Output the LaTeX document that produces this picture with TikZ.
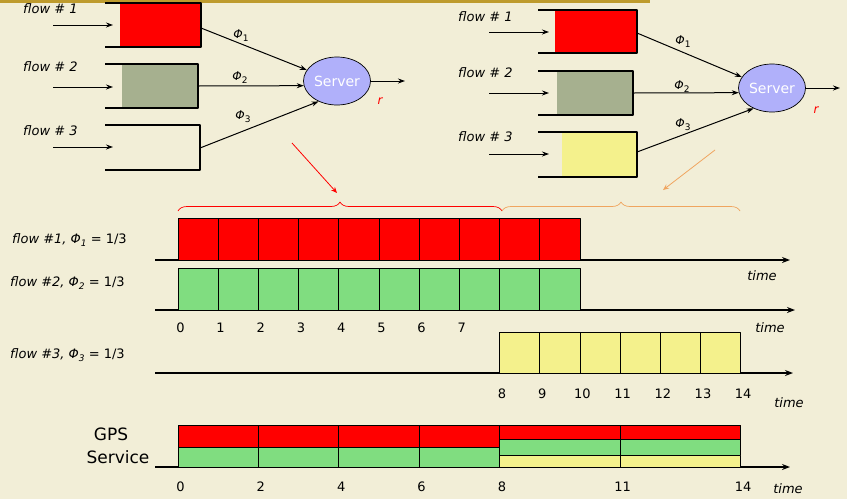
\documentclass[tikz,border=0pt]{standalone}
\usepackage{fontspec}
\setmainfont{DejaVu Sans}
\usetikzlibrary{arrows.meta,shapes.geometric,decorations.pathreplacing}
\definecolor{bgcream}{RGB}{242,238,215}
\definecolor{topgold}{RGB}{190,155,45}
\definecolor{qgray}{RGB}{166,176,143}
\definecolor{cellgreen}{RGB}{128,221,128}
\definecolor{cellyellow}{RGB}{244,241,140}
\definecolor{srvblue}{RGB}{176,176,250}
\definecolor{ptrorange}{RGB}{240,165,95}
\newcommand{\phisub}[1]{\textit{Φ}\raisebox{-3pt}{\fontsize{9}{9}\selectfont #1}}
\tikzset{
  qwall/.style={line width=1.7pt},
  feed/.style={-{Stealth[length=7pt,width=5pt]}, line width=1pt},
  srv/.style={ellipse, draw, line width=0.7pt, fill=srvblue, minimum width=67pt, minimum height=48pt, inner sep=0pt, text=white, font=\fontsize{14}{14}\selectfont},
  lbl/.style={font=\fontsize{13}{13}\selectfont\itshape, anchor=west, inner sep=0pt},
  phi/.style={font=\fontsize{12}{12}\selectfont, inner sep=0pt},
  rate/.style={font=\fontsize{12}{12}\selectfont\itshape, text=red, inner sep=0pt},
  cell/.style={draw, line width=0.8pt},
  taxis/.style={-{Stealth[length=8pt,width=6pt]}, line width=1.3pt},
  tick/.style={font=\fontsize{13}{13}\selectfont, inner sep=0pt},
  tlbl/.style={font=\fontsize{13}{13}\selectfont\itshape, inner sep=0pt},
  rowlbl/.style={font=\fontsize{13}{13}\selectfont, anchor=west, inner sep=0pt},
  gpslbl/.style={font=\fontsize{17}{17}\selectfont, inner sep=0pt},
  bracepath/.style={decorate, decoration={brace, amplitude=9pt}, line width=0.7pt},
}
\begin{document}
\begin{tikzpicture}[x=1pt, y=-1pt, line join=round]
\fill[bgcream] (0,0) rectangle (847,499);
\fill[topgold] (0,0) rectangle (650,3);

% left system: three queues, one server
\fill[red] (120,3) rectangle (201,47);
\fill[qgray] (122,64) rectangle (198,108);
\draw[qwall] (105,3) -| (201,47) -- (105,47);
\draw[qwall] (105,64) -| (198,108) -- (105,108);
\draw[qwall] (105,125) -| (200,170) -- (105,170);
\node[lbl] (la1) at (23,9) {flow \# 1};
\node[lbl] (la2) at (23,67) {flow \# 2};
\node[lbl] (la3) at (23,131) {flow \# 3};
\coordinate (sa1) at (53,25); \coordinate (qa1) at (113,25);
\coordinate (sa2) at (53,87); \coordinate (qa2) at (113,87);
\coordinate (sa3) at (53,147); \coordinate (qa3) at (113,147);
\coordinate (oa1) at (201,28); \coordinate (oa2) at (198,86); \coordinate (oa3) at (200,148);
\node[srv] (srvA) at (337,81) {Server};
\coordinate (outA) at (405,81);
\foreach \i in {1,2,3} \draw[feed] (sa\i) -- (qa\i);
\draw[feed] (oa1) -- (srvA.160);
\draw[feed] (oa2) -- (srvA.188);
\draw[feed] (oa3) -- (srvA.228);
\draw[feed] (srvA.east) -- (outA);
\node[phi] (pha1) at (241,36) {\phisub{1}};
\node[phi] (pha2) at (240,78) {\phisub{2}};
\node[phi] (pha3) at (243,117) {\phisub{3}};
\node[rate] (ra) at (380,101) {r};

% right system
\fill[red] (555,10) rectangle (637,53);
\fill[qgray] (557,71) rectangle (633,115);
\fill[cellyellow] (562,132) rectangle (637,177);
\draw[qwall] (538,10) -| (637,53) -- (538,53);
\draw[qwall] (538,71) -| (633,115) -- (538,115);
\draw[qwall] (538,132) -| (637,177) -- (538,177);
\node[lbl] (lb1) at (458,17) {flow \# 1};
\node[lbl] (lb2) at (458,73) {flow \# 2};
\node[lbl] (lb3) at (458,137) {flow \# 3};
\coordinate (sb1) at (489,32); \coordinate (qb1) at (549,32);
\coordinate (sb2) at (489,93); \coordinate (qb2) at (549,93);
\coordinate (sb3) at (489,154); \coordinate (qb3) at (549,154);
\coordinate (ob1) at (637,33); \coordinate (ob2) at (633,93); \coordinate (ob3) at (637,152);
\node[srv] (srvB) at (772,88) {Server};
\coordinate (outB) at (840,88);
\foreach \i in {1,2,3} \draw[feed] (sb\i) -- (qb\i);
\draw[feed] (ob1) -- (srvB.160);
\draw[feed] (ob2) -- (srvB.188);
\draw[feed] (ob3) -- (srvB.228);
\draw[feed] (srvB.east) -- (outB);
\node[phi] (phb1) at (683,42) {\phisub{1}};
\node[phi] (phb2) at (682,87) {\phisub{2}};
\node[phi] (phb3) at (683,125) {\phisub{3}};
\node[rate] (rb) at (816,110) {r};

% pointers and braces
\coordinate (pa0) at (292,143); \coordinate (pa1) at (337,193);
\coordinate (pb0) at (715,150); \coordinate (pb1) at (663,190);
\draw[red, -{Stealth[length=6pt,width=5pt]}, line width=0.8pt] (pa0) -- (pa1);
\draw[ptrorange, -{Stealth[length=6pt,width=5pt]}, line width=0.8pt] (pb0) -- (pb1);
\draw[red, bracepath] (178,211) -- (502,211);
\draw[ptrorange, bracepath] (502,211) -- (740,211);

% time lines
\draw[taxis] (155,260) -- (790,260);
\draw[taxis] (155,310) -- (795,310);
\draw[taxis] (155,373) -- (793,373);
\draw[taxis] (155,467) -- (790,467);
\node[rowlbl] (f1) at (12,240) {\textit{flow \#1, \phisub{1}} = 1/3};
\node[rowlbl] (f2) at (10,283) {\textit{flow \#2, \phisub{2}} = 1/3};
\node[rowlbl] (f3) at (10,355) {\textit{flow \#3, \phisub{3}} = 1/3};
\node[tlbl] (t1) at (762,276) {time};
\node[tlbl] (t2) at (770,328) {time};
\node[tlbl] (t3) at (789,403) {time};
\node[tlbl] (t4) at (788,489) {time};
\node[gpslbl] (gps) at (111,434) {GPS};
\node[gpslbl] (svc) at (118,457) {Service};

\begin{scope}[xshift=178pt, x=40.2pt]
  \foreach \t in {0,...,9} {
    \draw[cell, fill=red] (\t,218) rectangle (\t+1,260);
    \draw[cell, fill=cellgreen] (\t,268) rectangle (\t+1,310);
  }
  \foreach \t in {8,...,13} \draw[cell, fill=cellyellow] (\t,332) rectangle (\t+1,373);
  \foreach \t in {0,...,7} \node[tick] at (\t+0.06,328) {\t};
  \foreach \t in {8,...,14} \node[tick] at (\t+0.06,394) {\t};
  % GPS service split
  \foreach \a/\b in {0/2,2/4,4/6,6/8} {
    \draw[cell, fill=red] (\a,425) rectangle (\b,447);
    \draw[cell, fill=cellgreen] (\a,447) rectangle (\b,467);
  }
  \foreach \a/\b in {8/11,11/14} {
    \draw[cell, fill=red] (\a,425) rectangle (\b,439.5);
    \draw[cell, fill=cellgreen] (\a,439.5) rectangle (\b,455);
    \draw[cell, fill=cellyellow] (\a,455) rectangle (\b,467);
  }
  \foreach \t in {0,2,4,6,8,11,14} \node[tick] at (\t+0.06,487) {\t};
\end{scope}
\end{tikzpicture}
\end{document}
